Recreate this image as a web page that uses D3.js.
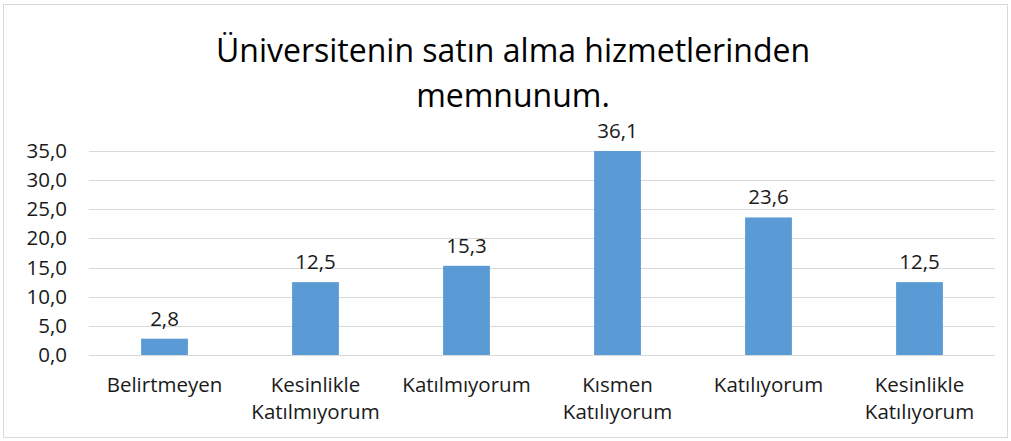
<!DOCTYPE html>
<html>
<head>
<meta charset="utf-8">
<script src="https://cdn.jsdelivr.net/npm/d3@7"></script>
<style>
  html, body { margin: 0; padding: 0; background: #fff; }
  svg { display: block; font-family: "Open Sans", Lato, sans-serif; }
</style>
</head>
<body>
<svg id="chart" width="1011" height="441"></svg>
<script>
// Survey response shares (%)
const categories = [
  ["Belirtmeyen"],
  ["Kesinlikle", "Katılmıyorum"],
  ["Katılmıyorum"],
  ["Kısmen", "Katılıyorum"],
  ["Katılıyorum"],
  ["Kesinlikle", "Katılıyorum"]
];
const values = [2.8, 12.5, 15.3, 36.1, 23.6, 12.5];
const yTicks = [0, 5, 10, 15, 20, 25, 30, 35];
const titleLines = ["Üniversitenin satın alma hizmetlerinden", "memnunum."];

const W = 1011, H = 441;
const margin = { left: 89, right: 16, top: 151, bottom: 86 };
const labelSize = 20.5;
const svg = d3.select("#chart");

// Chart frame
svg.append("rect")
  .attr("x", 3.5).attr("y", 4.5)
  .attr("width", W - 7).attr("height", H - 8)
  .attr("fill", "#fff").attr("stroke", "#d9d9d9");

const x = d3.scaleBand()
  .domain(d3.range(categories.length))
  .range([margin.left, W - margin.right])
  .paddingInner(0.69).paddingOuter(0.345);

const y = d3.scaleLinear()
  .domain([0, 35])
  .range([H - margin.bottom, margin.top]);

const fmt = v => d3.format(".1f")(v).replace(".", ",");

// Horizontal gridlines
svg.append("g")
  .selectAll("line")
  .data(yTicks)
  .join("line")
  .attr("x1", margin.left).attr("x2", W - margin.right)
  .attr("y1", d => Math.round(y(d)) + 0.5).attr("y2", d => Math.round(y(d)) + 0.5)
  .attr("stroke", "#d9d9d9").attr("stroke-width", 1);

// Y axis labels
const yAxis = d3.axisLeft(y).tickValues(yTicks).tickFormat(fmt).tickSize(0).tickPadding(0);
const gy = svg.append("g")
  .attr("transform", `translate(${margin.left - 22},0)`)
  .call(yAxis);
gy.select(".domain").remove();
gy.selectAll("text")
  .attr("font-size", labelSize).attr("fill", "#1a1a1a")
  .attr("font-family", "Open Sans, sans-serif");

// Plot clip (values above the axis maximum are cut at the top)
svg.append("clipPath").attr("id", "plot-clip")
  .append("rect")
  .attr("x", margin.left).attr("y", margin.top)
  .attr("width", W - margin.left - margin.right)
  .attr("height", H - margin.top - margin.bottom);

// Bars
svg.append("g")
  .attr("clip-path", "url(#plot-clip)")
  .selectAll("rect")
  .data(values)
  .join("rect")
  .attr("x", (d, i) => x(i))
  .attr("width", x.bandwidth())
  .attr("y", d => y(d))
  .attr("height", d => y(0) - y(d))
  .attr("fill", "#5b9bd5");

// Value labels
svg.append("g")
  .selectAll("text")
  .data(values)
  .join("text")
  .attr("x", (d, i) => x(i) + x.bandwidth() / 2)
  .attr("y", d => Math.max(y(d), margin.top) - 13)
  .attr("text-anchor", "middle")
  .attr("font-size", labelSize).attr("fill", "#1a1a1a")
  .text(fmt);

// Category labels
const xl = svg.append("g")
  .selectAll("text")
  .data(categories)
  .join("text")
  .attr("text-anchor", "middle")
  .attr("font-size", labelSize).attr("fill", "#1a1a1a");
xl.selectAll("tspan")
  .data((d, i) => d.map(t => ({ t, i })))
  .join("tspan")
  .attr("x", d => x(d.i) + x.bandwidth() / 2)
  .attr("y", (d, j) => 392 + j * 27)
  .text(d => d.t);

// Title
svg.append("g")
  .selectAll("text")
  .data(titleLines)
  .join("text")
  .attr("x", 513)
  .attr("y", (d, i) => 62 + i * 45)
  .attr("text-anchor", "middle")
  .attr("font-size", 32).attr("fill", "#000")
  .text(d => d);
</script>
</body>
</html>
